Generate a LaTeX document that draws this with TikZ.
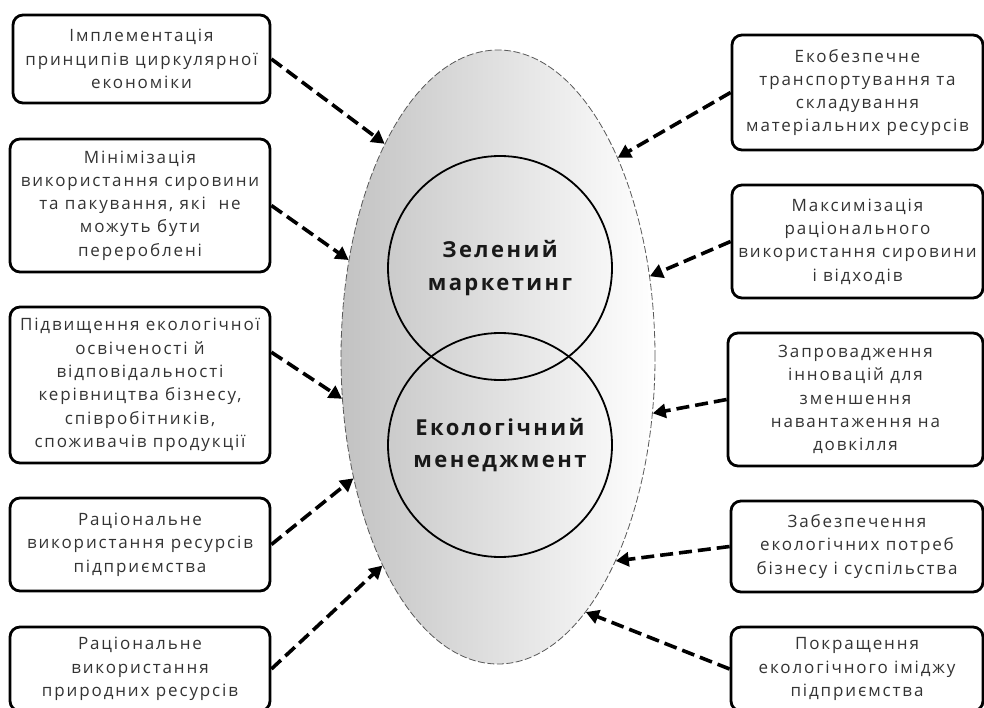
\documentclass[tikz,border=0pt]{standalone}
\usepackage{fontspec}
\setmainfont{Open Sans}[LetterSpace=11]
\usepackage{xcolor}
\usetikzlibrary{shapes.geometric,arrows.meta,positioning}
\definecolor{TX}{HTML}{333333}
\definecolor{EL}{HTML}{C2C2C2}

\tikzset{
  factor/.style={draw, line width=2.8pt, rounded corners=10pt,
                 inner sep=0pt, align=center, text=TX,
                 font=\fontsize{17}{23.3}\selectfont},
  link/.style={line width=3.6pt, dash pattern=on 13pt off 6pt,
               -{Triangle[length=13pt,width=14pt]}},
  core/.style={draw, circle, line width=1.8pt, minimum size=224pt,
               inner sep=0pt, align=center, text=black!90,
               font=\fontsize{22}{32.5}\selectfont\bfseries}
}

\begin{document}
\begin{tikzpicture}[x=1pt,y=-1pt]
  \useasboundingbox (0,0) rectangle (984,708);
  \clip (0,0) rectangle (984,708);

  % shaded field
  \node[ellipse, minimum width=314pt, minimum height=614pt, inner sep=0pt,
        draw=black!65, line width=0.8pt, dash pattern=on 7pt off 2.5pt,
        left color=EL, right color=white] (field) at (498,357) {};

  \node[core] (green) at (500,268) {Зелений\\маркетинг};
  \node[core] (eco) at (500,445) {Екологічний\\менеджмент};

  % left column
  \node[factor, minimum width=257pt, minimum height=88pt] (l1) at (141.5,59)
    {Імплементація\\принципів циркулярної\\економіки};
  \node[factor, minimum width=260pt, minimum height=133pt] (l2) at (140,205.5)
    {Мінімізація\\використання сировини\\та пакування, які\ \ не\\можуть бути\\перероблені};
  \node[factor, minimum width=260pt, minimum height=156pt] (l3) at (140,385)
    {Підвищення екологічної\\освіченості й\\відповідальності\\керівництва бізнесу,\\співробітників,\\споживачів продукції};
  \node[factor, minimum width=260pt, minimum height=93pt] (l4) at (140,544.5)
    {Раціональне\\використання ресурсів\\підприємства};
  \node[factor, minimum width=260pt, minimum height=84pt] (l5) at (140,669)
    {Раціональне\\використання\\природних ресурсів};

  % right column
  \node[factor, minimum width=251pt, minimum height=115pt] (r1) at (857.5,92.5)
    {Екобезпечне\\транспортування та\\складування\\матеріальних ресурсів};
  \node[factor, minimum width=251pt, minimum height=113pt] (r2) at (857.5,241.5)
    {Максимізація\\раціонального\\використання сировини\\і відходів};
  \node[factor, minimum width=255pt, minimum height=133pt] (r3) at (855.5,399.5)
    {Запровадження\\інновацій для\\зменшення\\навантаження на\\довкілля};
  \node[factor, minimum width=252pt, minimum height=91pt] (r4) at (857,546.5)
    {Забезпечення\\екологічних потреб\\бізнесу і суспільства};
  \node[factor, minimum width=252pt, minimum height=84pt] (r5) at (857,669)
    {Покращення\\екологічного іміджу\\підприємства};

  \draw[link] (l1.east) -- (field.118);
  \draw[link] (l2.east) -- (field.147);
  \draw[link] (l3.14) -- (field.195.5);
  \draw[link] (l4.east) -- (field.220.6);
  \draw[link] (l5.east) -- (field.241.4);

  \draw[link] (r1.west) -- (field.59.9);
  \draw[link] (r2.west) -- (field.28);
  \draw[link] (r3.west) -- (field.340.6);
  \draw[link] (r4.west) -- (field.300.2);
  \draw[link] (r5.west) -- (field.289.2);
\end{tikzpicture}
\end{document}
